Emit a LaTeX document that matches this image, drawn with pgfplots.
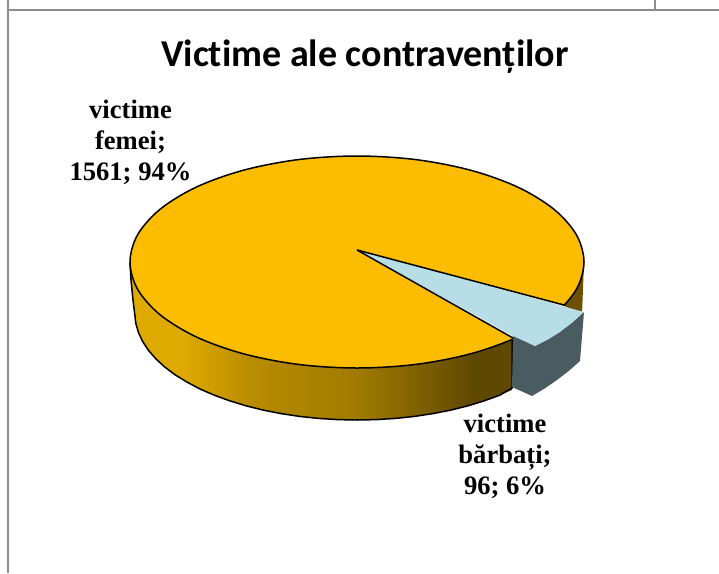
\documentclass[border=0pt]{standalone}
\usepackage{fontspec}
\usepackage{pgfplots}
\pgfplotsset{compat=1.18}
\setmainfont{Liberation Serif}
\newfontfamily\titlefont[Ligatures=NoCommon]{Carlito}
\definecolor{pieorange}{HTML}{FCBD00}
\definecolor{pieblue}{HTML}{B7DDE6}
\definecolor{piegray}{HTML}{4A5B62}
\definecolor{piebrown}{HTML}{6B5000}
\definecolor{framegray}{HTML}{8C8C8C}
\definecolor{shA}{HTML}{DEA900}
\definecolor{shC}{HTML}{B88C00}
\definecolor{shD}{HTML}{A07A00}
\definecolor{shE}{HTML}{5F4800}
\pgfdeclarehorizontalshading{sideshade}{100bp}{
 color(0bp)=(shA);
 color(25bp)=(shA);
 color(32bp)=(shA);
 color(41bp)=(shC);
 color(55bp)=(shD);
 color(70bp)=(shE);
 color(75bp)=(shE);
 color(100bp)=(shE)}
\begin{document}
\begin{tikzpicture}
\begin{axis}[
  scale only axis, width=719pt, height=573pt,
  xmin=0, xmax=719, ymin=0, ymax=573, y dir=reverse,
  hide axis, clip=true]
% keeps the whole canvas in the picture
\addplot[draw=none] coordinates {(0,0) (719,573)};
% frame of the page behind the chart
\addplot[framegray, line width=1.6pt] coordinates {(8,0) (8,573)};
\addplot[framegray, line width=1.6pt] coordinates {(8,10) (719,10)};
\addplot[framegray, line width=1.2pt] coordinates {(655,0) (655,10)};
% outer side of the big slice
\addplot[draw=none, shading=sideshade] coordinates {
 (512,339) (512,390) (499.7,395.2) (484.3,400.8) (468,405.8) (450.8,410.1) (432.9,413.6) (414.5,416.4) (395.5,418.4) (376.4,419.6) (357,420)
 (337.6,419.6) (318.5,418.4) (299.5,416.4) (281.1,413.6) (263.2,410.1) (246,405.8) (229.7,400.8) (214.3,395.2) (200,389) (187,382.1) (175.1,374.8)
 (164.7,367) (155.8,358.8) (148.4,350.3) (142.6,341.4) (138.4,332.4) (135.8,323.2) (135,314) (131,280) (130,262) (357,262) (512,339)};
\addplot[black, line width=1.5pt] coordinates {
 (512,339) (512,388) (499.7,395.2) (484.3,400.8) (468,405.8) (450.8,410.1) (432.9,413.6) (414.5,416.4) (395.5,418.4) (376.4,419.6) (357,420)
 (337.6,419.6) (318.5,418.4) (299.5,416.4) (281.1,413.6) (263.2,410.1) (246,405.8) (229.7,400.8) (214.3,395.2) (200,389) (187,382.1) (175.1,374.8)
 (164.7,367) (155.8,358.8) (148.4,350.3) (142.6,341.4) (138.4,332.4) (135.8,323.2) (133,300) (131,280) (130,262)};
% small visible piece of side at the right
\addplot[draw=none, fill=piebrown] coordinates {(584,262) (582,314) (558,305) (584,262)};
% top of the big slice
\addplot[black, fill=pieorange, line width=1.5pt, smooth cycle, tension=0.55] coordinates {
 (584,262) (576.3,289.4) (553.6,315) (517.5,337) (470.5,353.8) (415.8,364.4) (357,368) (298.2,364.4) (243.5,353.8) (196.5,337) (160.4,315) (137.7,289.4)
 (130,262) (137.7,234.6) (160.4,209) (196.5,187) (243.5,170.2) (298.2,159.6) (357,156) (415.8,159.6) (470.5,170.2) (517.5,187) (553.6,209) (576.3,234.6)};
% gap left by the exploded slice
\addplot[draw=none, fill=white] coordinates {(357,250) (564,306) (582,314) (560,345) (513,338) (357,250)};
% exploded slice: faces and top
\addplot[draw=none, fill=piegray] coordinates {(513,338) (512,387) (532,396) (544.8,388.4) (557,380) (568.8,370.9) (580,361) (584,312) (535,346) (513,333) (513,338)};
\addplot[draw=none, fill=pieblue] coordinates {(358,250) (584,312) (572.1,322.7) (560,332) (547.6,339.7) (535,346) (513,336) (358,250)};
% cut edges
\addplot[black, line width=1.5pt] coordinates {(357,250) (564,305)};
\addplot[black, line width=1.5pt] coordinates {(357,250) (513,338)};
\node[font=\titlefont\bfseries\fontsize{38}{38}\selectfont, anchor=center] at (axis cs:365,56.5) {Victime ale contravenților};
\node[font=\bfseries\fontsize{26.6}{31}\selectfont, align=center, anchor=center] at (axis cs:130.5,142) {victime\\femei;\\1561; 94\%};
\node[font=\bfseries\fontsize{26.6}{31}\selectfont, align=center, anchor=center] at (axis cs:505,456.5) {victime\\bărbați;\\96; 6\%};
\end{axis}
\end{tikzpicture}
\end{document}
